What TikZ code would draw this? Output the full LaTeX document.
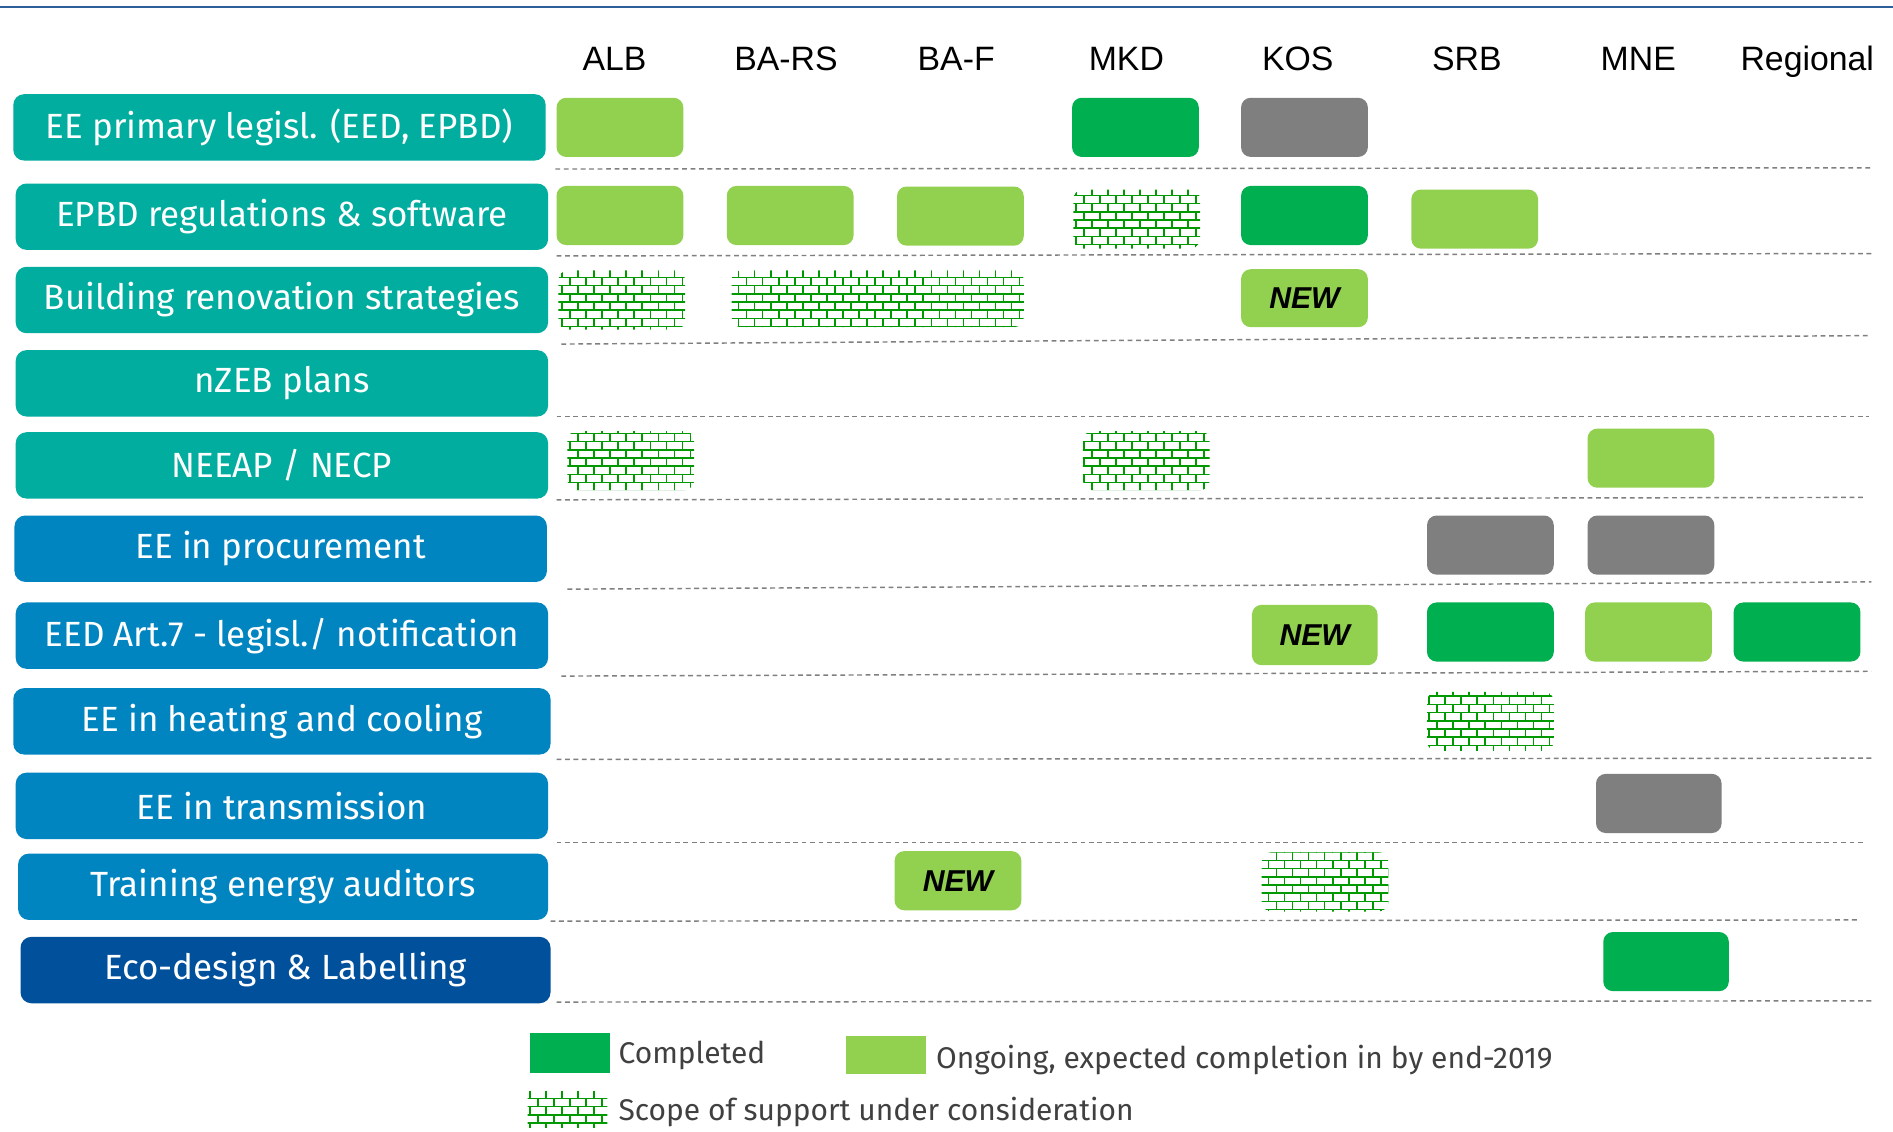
\documentclass[tikz,border=0pt]{standalone}
\usepackage{fontspec}
\setmainfont{Fira Sans}
\newfontfamily\hdrfont{Liberation Sans}
\usetikzlibrary{positioning,patterns}
\definecolor{topicteal}{HTML}{00AD9E}
\definecolor{topicblue}{HTML}{0085C0}
\definecolor{topicnavy}{HTML}{00509B}
\definecolor{dgreen}{HTML}{00B050}
\definecolor{lgreen}{HTML}{92D050}
\definecolor{cellgray}{HTML}{7F7F7F}
\definecolor{brickgreen}{HTML}{009A00}
\definecolor{rulegray}{HTML}{7F7F7F}
\definecolor{topline}{HTML}{2F5F98}
\definecolor{legendtext}{HTML}{404040}
\pgfdeclarepatternformonly{brickwall}{\pgfpoint{-1pt}{-1pt}}{\pgfpoint{14.3pt}{14.6pt}}{\pgfpoint{13.3pt}{13.6pt}}{
	\pgfsetlinewidth{1.3pt}
	\pgfpathmoveto{\pgfpoint{-0.6pt}{0pt}}\pgfpathlineto{\pgfpoint{13.9pt}{0pt}}
	\pgfpathmoveto{\pgfpoint{-0.6pt}{6.8pt}}\pgfpathlineto{\pgfpoint{13.9pt}{6.8pt}}
	\pgfpathmoveto{\pgfpoint{0pt}{0pt}}\pgfpathlineto{\pgfpoint{0pt}{6.8pt}}
	\pgfpathmoveto{\pgfpoint{6.65pt}{6.8pt}}\pgfpathlineto{\pgfpoint{6.65pt}{13.6pt}}
	\pgfusepath{stroke}
}
\tikzstyle{topic} = [rectangle, rounded corners=9pt, minimum width=441pt, minimum height=55pt, text centered, text=white, inner sep=0pt, font=\fontsize{29}{32}\selectfont]
\tikzstyle{cell} = [rectangle, rounded corners=8pt, minimum width=105pt, minimum height=49pt, inner sep=0pt]
\tikzstyle{cdone} = [cell, fill=dgreen]
\tikzstyle{congoing} = [cell, fill=lgreen]
\tikzstyle{cgray} = [cell, fill=cellgray]
\tikzstyle{cscope} = [cell, pattern=brickwall, pattern color=brickgreen]
\tikzstyle{newtag} = [font=\hdrfont\bfseries\itshape\fontsize{25}{30}\selectfont]
\tikzstyle{country} = [anchor=base, font=\hdrfont\fontsize{28}{32}\selectfont]
\tikzstyle{rowline} = [rulegray, line width=1.2pt, dash pattern=on 4pt off 3pt]
\tikzstyle{legend} = [text=legendtext, inner sep=0pt, font=\fontsize{24.8}{28}\selectfont]

\begin{document}
\begin{tikzpicture}
		[x=1pt, y=-1pt, node distance=7pt]
		\fill[white] (0,0) rectangle (1568,937);
		\useasboundingbox (0,0) rectangle (1568,937);
		\draw[topline, line width=1.5pt] (0,6) -- (1568,6);
		
		% country columns
		\node[country] (alb) at (509,58) {ALB};
		\node[country] (bars) at (651,58) {BA-RS};
		\node[country] (baf) at (792,58) {BA-F};
		\node[country] (mkd) at (933,58) {MKD};
		\node[country] (kos) at (1075,58) {KOS};
		\node[country] (srb) at (1215,58) {SRB};
		\node[country] (mne) at (1357,58) {MNE};
		\node[country] (reg) at (1497,58) {Regional};
		
		% topics
		\node[topic, fill=topicteal] (primary) at (231.5,105.5) {EE primary legisl. (EED, EPBD)};
		\node[topic, fill=topicteal] (epbd) at (233.5,179.5) {EPBD regulations \& software};
		\node[topic, fill=topicteal] (renov) at (233.5,248.5) {Building renovation strategies};
		\node[topic, fill=topicteal] (nzeb) at (233.5,317.5) {nZEB plans};
		\node[topic, fill=topicteal] (neeap) at (233.5,385.5) {NEEAP / NECP};
		\node[topic, fill=topicblue] (procure) at (232.5,454.5) {EE in procurement};
		\node[topic, fill=topicblue] (art7) at (233.5,526.5) {EED Art.7 - legisl./ notification};
		\node[topic, fill=topicblue, minimum width=445pt] (heat) at (233.5,597.5) {EE in heating and cooling};
		\node[topic, fill=topicblue] (transm) at (233.5,667.5) {EE in transmission};
		\node[topic, fill=topicblue, minimum width=439pt] (audit) at (234.5,734.5) {Training energy auditors};
		\node[topic, fill=topicnavy, minimum width=439pt] (ecodesign) at (236.5,803.5) {Eco-design \& Labelling};
		
		% row separators
		\draw[rowline] (460,140) -- (1550,139);
		\draw[rowline] (461,212) -- (1550,210);
		\draw[rowline] (465,285) -- (1548,278);
		\draw[rowline] (461,345) -- (1548,345);
		\draw[rowline] (461,414) -- (1543,412);
		\draw[rowline] (470,488) -- (1550,482);
		\draw[rowline] (465,560) -- (1550,556);
		\draw[rowline] (461,629) -- (1550,628);
		\draw[rowline] (461,698) -- (1545,698);
		\draw[rowline] (456,763) -- (1538,762);
		\draw[rowline] (461,830) -- (1550,829);
		
		% status cells
		\node[congoing] (primALB) at (513.5,105.5) {};
		\node[cdone] (primMKD) at (940.5,105.5) {};
		\node[cgray] (primKOS) at (1080.5,105.5) {};
		
		\node[congoing] (epbdALB) at (513.5,178.5) {};
		\node[congoing] (epbdBARS) at (654.5,178.5) {};
		\node[congoing] (epbdBAF) at (795.5,179) {};
		\node[cscope] (epbdMKD) at (941.5,181.5) {};
		\node[cdone] (epbdKOS) at (1080.5,178.5) {};
		\node[congoing] (epbdSRB) at (1221.5,181.5) {};
		
		\node[cscope] (renovALB) at (515,248.5) {};
		\node[cscope, minimum width=242pt, minimum height=47pt] (renovBA) at (727,247.5) {};
		\node[congoing, newtag, minimum height=48pt] (renovKOS) at (1080.5,247) {NEW};
		
		\node[cscope] (neeapALB) at (522.5,381.5) {};
		\node[cscope] (neeapMKD) at (949.5,381.5) {};
		\node[congoing] (neeapMNE) at (1367.5,379.5) {};
		
		\node[cgray] (procSRB) at (1234.5,451.5) {};
		\node[cgray] (procMNE) at (1367.5,451.5) {};
		
		\node[congoing, newtag, minimum width=104pt, minimum height=50pt] (art7KOS) at (1089,526) {NEW};
		\node[cdone] (art7SRB) at (1234.5,523.5) {};
		\node[congoing] (art7MNE) at (1365.5,523.5) {};
		\node[cdone] (art7REG) at (1488.5,523.5) {};
		
		\node[cscope] (heatSRB) at (1234.5,597.5) {};
		
		\node[cgray, minimum width=104pt] (transmMNE) at (1374,665.5) {};
		
		\node[congoing, newtag] (auditBAF) at (793.5,729.5) {NEW};
		\node[cscope] (auditKOS) at (1097.5,730.5) {};
		
		\node[cdone, minimum width=104pt] (ecoMNE) at (1380,796.5) {};
		
		% legend
		\node[rectangle, fill=dgreen, minimum width=66pt, minimum height=33pt, inner sep=0pt] (lgdone) at (472,872.5) {};
		\node[legend, right=of lgdone, yshift=-2pt] (lgdonetxt) {Completed};
		\node[rectangle, fill=lgreen, minimum width=66pt, minimum height=32pt, inner sep=0pt] (lgongoing) at (734,874) {};
		\node[legend, right=8pt of lgongoing, yshift=-4pt] (lgongoingtxt) {Ongoing, expected completion in by end-2019};
		\node[rectangle, pattern=brickwall, pattern color=brickgreen, minimum width=66pt, minimum height=30pt, inner sep=0pt] (lgscope) at (470,919) {};
		\node[legend, right=9pt of lgscope, yshift=-2pt] (lgscopetxt) {Scope of support under consideration};
		\end{tikzpicture}
\end{document}
